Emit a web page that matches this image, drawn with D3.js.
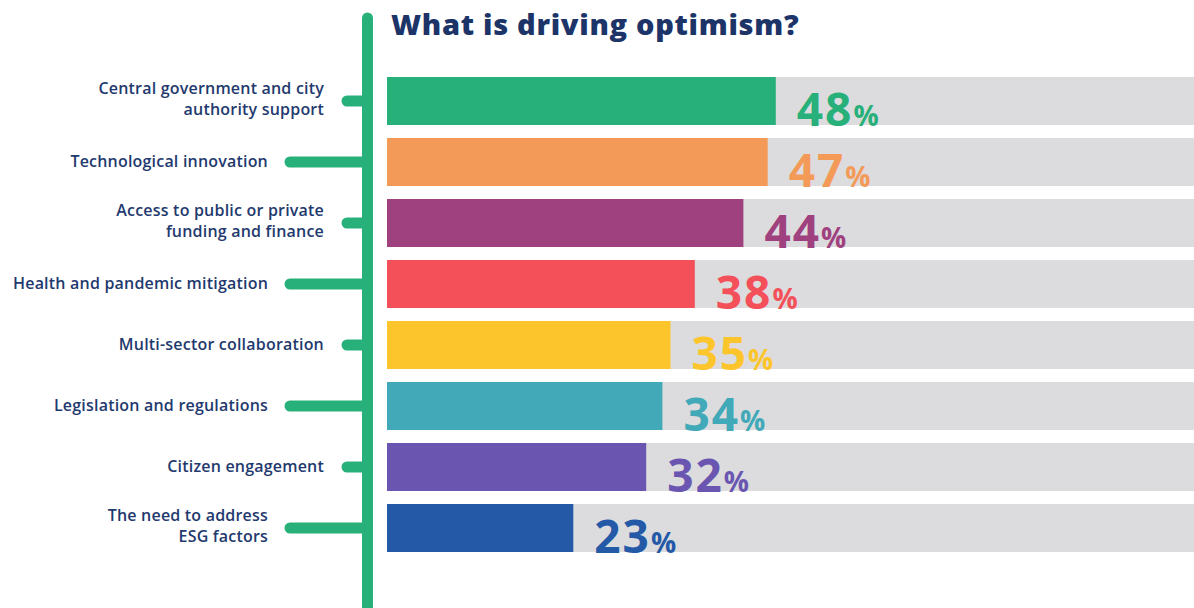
<!DOCTYPE html>
<html>
<head>
<meta charset="utf-8">
<script src="https://d3js.org/d3.v7.min.js"></script>
<style>
    body { margin: 0; background: #fff; }
    svg { display: block; }
    .title { font-family: "Open Sans", sans-serif; font-weight: 800; font-size: 29px; letter-spacing: 0.7px; fill: #1c3468; }
    .label { font-family: "Open Sans", sans-serif; font-weight: 600; font-size: 16px; letter-spacing: 0.2px; fill: #1f3a6e; }
    .value { font-family: "Open Sans", sans-serif; font-weight: 700; }
</style>
</head>
<body>
<svg width="1194" height="608"></svg>
<script>
    // categories (| marks a line break in the label)
    var categories = [
        "Central government and city|authority support",
        "Technological innovation",
        "Access to public or private|funding and finance",
        "Health and pandemic mitigation",
        "Multi-sector collaboration",
        "Legislation and regulations",
        "Citizen engagement",
        "The need to address|ESG factors"
    ];
    var values = [48, 47, 44, 38, 35, 34, 32, 23];
    var colors = ["#28b07a", "#f49a58", "#a0417f", "#f3505a", "#fdc52c", "#41a9b8", "#6a56b1", "#2459a7"];
    var title = "What is driving optimism?";

    var svg = d3.select("svg");
    var green = "#28b07a";

    var x = d3.scaleLinear().domain([0, 100]).range([387, 1197]);
    var y = d3.scaleBand().domain(categories).range([77, 552]).paddingInner(13 / 61);

    // spine
    svg.append("line")
        .attr("x1", 367.5).attr("x2", 367.5)
        .attr("y1", 18).attr("y2", 620)
        .attr("stroke", green).attr("stroke-width", 11)
        .attr("stroke-linecap", "round");

    svg.append("text")
        .attr("class", "title")
        .attr("x", 391).attr("y", 35)
        .text(title);

    var row = svg.append("g").selectAll("g")
        .data(categories)
        .enter().append("g");

    // connectors: alternate short / long
    row.append("line")
        .attr("x1", function(d, i) { return i % 2 ? 290 : 347; })
        .attr("x2", 367)
        .attr("y1", function(d) { return y(d) + y.bandwidth() / 2; })
        .attr("y2", function(d) { return y(d) + y.bandwidth() / 2; })
        .attr("stroke", green).attr("stroke-width", 11)
        .attr("stroke-linecap", "round");

    row.append("text")
        .attr("class", "label")
        .attr("text-anchor", "end")
        .each(function(d, i) {
            var lines = d.split("|");
            var cx = i % 2 ? 268 : 324;
            var cy = y(d) + y.bandwidth() / 2 + 5 - (lines.length - 1) * 12.5;
            d3.select(this).selectAll("tspan")
                .data(lines)
                .enter().append("tspan")
                .attr("x", cx)
                .attr("y", function(l, j) { return cy + j * 21; })
                .text(function(l) { return l; });
        });

    // grey track
    row.append("rect")
        .attr("x", x(0))
        .attr("y", function(d) { return y(d); })
        .attr("width", x(100) - x(0))
        .attr("height", y.bandwidth())
        .attr("fill", "#dcdcde");

    row.append("rect")
        .attr("x", x(0))
        .attr("y", function(d) { return y(d); })
        .attr("width", function(d, i) { return x(values[i]) - x(0); })
        .attr("height", y.bandwidth())
        .attr("fill", function(d, i) { return colors[i]; });

    var val = row.append("text")
        .attr("class", "value")
        .attr("x", function(d, i) { return x(values[i]) + 21; })
        .attr("y", function(d) { return y(d) + y.bandwidth() + 1; })
        .attr("fill", function(d, i) { return colors[i]; });

    val.append("tspan")
        .attr("font-size", 46)
        .attr("letter-spacing", 2)
        .text(function(d, i) { return values[i]; });
    val.append("tspan")
        .attr("font-size", 28)
        .text("%");
</script>
</body>
</html>
